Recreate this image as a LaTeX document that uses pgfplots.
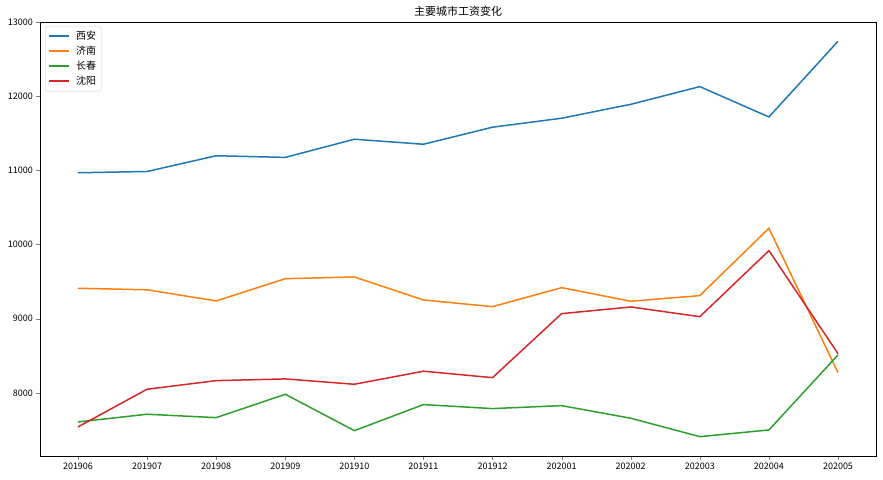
\documentclass[border=0pt]{standalone}
\usepackage{fontspec}
\setmainfont{Noto Sans CJK SC}
\usepackage{pgfplots}
\pgfplotsset{compat=1.18}
\usetikzlibrary{calc}

\definecolor{c0}{HTML}{1F77B4}
\definecolor{c1}{HTML}{FF7F0E}
\definecolor{c2}{HTML}{2CA02C}
\definecolor{c3}{HTML}{D62728}

\begin{document}
\begin{tikzpicture}
\begin{axis}[
    name=main,
    scale only axis,
    width=836pt, height=434pt,
    xmin=-0.55, xmax=11.55,
    ymin=7150, ymax=13000,
    xtick={0,...,11},
    xticklabels={201906,201907,201908,201909,201910,201911,201912,202001,202002,202003,202004,202005},
    ytick={8000,9000,10000,11000,12000,13000},
    scaled y ticks=false,
    /pgf/number format/assume math mode=true,
    /pgf/number format/set thousands separator={},
    tick label style={font=\fontsize{9}{10}\selectfont, black},
    tick align=outside,
    xtick pos=bottom,
    ytick pos=left,
    major tick length=3.5pt,
    axis line style={line width=0.8pt},
    title={主要城市工资变化},
    title style={font=\fontsize{11}{12}\selectfont, yshift=-4pt},
    legend cell align=left,
    legend style={at={(0.006,0.99)}, anchor=north west, draw=black!18,
        rounded corners=2pt, font=\fontsize{10}{11}\selectfont,
        row sep=1pt, inner sep=3pt},
    legend image code/.code={\draw[#1, line width=2pt] (0pt,0.5pt) -- (20pt,0.5pt);},
]
\addplot[c0, line width=1.5pt] coordinates {(0,10968)(1,10985)(2,11197)(3,11175)(4,11420)(5,11352)(6,11582)(7,11703)(8,11890)(9,12129)(10,11720)(11,12740)};
\addlegendentry{\hspace{4pt}西安}
\addplot[c1, line width=1.5pt] coordinates {(0,9411)(1,9390)(2,9240)(3,9540)(4,9563)(5,9253)(6,9163)(7,9419)(8,9236)(9,9312)(10,10220)(11,8274)};
\addlegendentry{\hspace{4pt}济南}
\addplot[c2, line width=1.5pt] coordinates {(0,7609)(1,7713)(2,7667)(3,7982)(4,7492)(5,7843)(6,7789)(7,7829)(8,7659)(9,7411)(10,7501)(11,8512)};
\addlegendentry{\hspace{4pt}长春}
\addplot[c3, line width=1.5pt] coordinates {(0,7542)(1,8050)(2,8166)(3,8189)(4,8117)(5,8293)(6,8206)(7,9069)(8,9159)(9,9028)(10,9918)(11,8530)};
\addlegendentry{\hspace{4pt}沈阳}
\end{axis}
\pgfresetboundingbox
\path[use as bounding box] ($(main.south west)+(-40pt,-23pt)$) rectangle ($(main.south west)+(843pt,456pt)$);
\end{tikzpicture}
\end{document}
